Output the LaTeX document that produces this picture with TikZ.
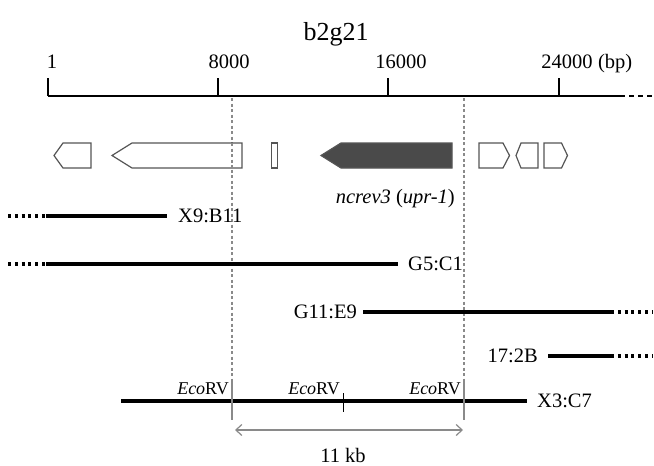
\documentclass[tikz,border=0pt]{standalone}
\usepackage{fontspec}
\setmainfont{Liberation Serif}
\usetikzlibrary{arrows.meta}
\definecolor{genegray}{HTML}{555555}
\definecolor{guidegray}{HTML}{8A8A8A}
\definecolor{fillgray}{HTML}{4A4A4A}
\tikzset{
  lbl/.style={inner sep=0pt, font=\fontsize{20.5}{24}\selectfont},
  ticklbl/.style={lbl, anchor=base},
  titlelbl/.style={inner sep=0pt, anchor=base, font=\fontsize{26}{30}\selectfont},
  eco/.style={inner sep=0pt, anchor=base east, font=\fontsize{18}{21}\selectfont},
  clone/.style={line width=3.2pt},
  cloneext/.style={line width=3.2pt, dash pattern=on 3pt off 3.8pt},
  gene/.style={draw=genegray, line width=1.2pt, fill=white, line join=miter},
  genefilled/.style={draw=genegray, line width=1.2pt, fill=fillgray, line join=miter},
  guide/.style={draw=guidegray, line width=1.1pt, dash pattern=on 3pt off 2.5pt},
  axisline/.style={line width=1.4pt},
  sitetick/.style={draw=guidegray, line width=1.5pt},
}
\begin{document}
\begin{tikzpicture}[x=1pt,y=-1pt]
\useasboundingbox (0,0) rectangle (654,466);
% title
\node[titlelbl] (title) at (336,40) {b2g21};
% axis
\coordinate (a0) at (48,96);
\coordinate (aend) at (620,96);
\coordinate (adash) at (654,96);
\draw[axisline] (a0) -- (aend);
\draw[axisline, dash pattern=on 5pt off 4pt] (aend) -- (adash);
\foreach \x in {48,218,388,559} {
  \draw[axisline] (\x,78) -- (\x,96);
}
\node[ticklbl] (t1) at (52,68) {1};
\node[ticklbl] (t8) at (229,68) {8000};
\node[ticklbl] (t16) at (401,68) {16000};
\node[ticklbl] (t24) at (567,68) {24000};
\node[lbl, anchor=base west] (tbp) at ([xshift=5pt]t24.base east) {(bp)};
% guide lines
\coordinate (g1top) at (232,98);
\coordinate (g1bot) at (232,382);
\coordinate (g2top) at (464,98);
\coordinate (g2bot) at (464,382);
\draw[guide] (g1top) -- (g1bot);
\draw[guide] (g2top) -- (g2bot);
% genes
\draw[gene] (54,155.5) -- (63,143) -- (91,143) -- (91,168) -- (63,168) -- cycle;
\draw[gene] (112,155.5) -- (132,143) -- (242,143) -- (242,168) -- (132,168) -- cycle;
\draw[gene] (271.5,143) rectangle (277.5,168);
\draw[genefilled] (321,155.5) -- (341,143) -- (452,143) -- (452,168) -- (341,168) -- cycle;
\draw[gene] (479,143) -- (503,143) -- (509.5,155.5) -- (503,168) -- (479,168) -- cycle;
\draw[gene] (516,155.5) -- (521,143) -- (538,143) -- (538,168) -- (521,168) -- cycle;
\draw[gene] (544,143) -- (561.5,143) -- (567.5,155.5) -- (561.5,168) -- (544,168) -- cycle;
% redraw guide over gene 2 region
\draw[guide] (232,143) -- (232,168);
\node[lbl, anchor=base east] (glbl) at (455,203) {\textit{ncrev3} (\textit{upr-1})};
% clone X9:B11
\coordinate (x9a) at (8,216);
\coordinate (x9b) at (46,216);
\coordinate (x9c) at (167,216);
\draw[cloneext] (x9a) -- (x9b);
\draw[clone] (x9b) -- (x9c);
\node[lbl, anchor=west] (x9) at (178,216) {X9:B11};
% clone G5:C1
\coordinate (g5a) at (8,264);
\coordinate (g5b) at (46,264);
\coordinate (g5c) at (398,264);
\draw[cloneext] (g5a) -- (g5b);
\draw[clone] (g5b) -- (g5c);
\node[lbl, anchor=west] (g5) at (408,264) {G5:C1};
% clone G11:E9
\node[lbl, anchor=east] (g11) at (357,312) {G11:E9};
\coordinate (g11a) at (363,312);
\coordinate (g11b) at (611,312);
\coordinate (g11c) at (652,312);
\draw[clone] (g11a) -- (g11b);
\draw[cloneext] (g11b) -- (g11c);
% clone 17:2B
\node[lbl, anchor=east] (c17) at (538,356) {17:2B};
\coordinate (c17a) at (548,356);
\coordinate (c17b) at (611,356);
\coordinate (c17c) at (652,356);
\draw[clone] (c17a) -- (c17b);
\draw[cloneext] (c17b) -- (c17c);
% clone X3:C7
\coordinate (x3a) at (121,401);
\coordinate (x3b) at (527,401);
\draw[clone] (x3a) -- (x3b);
\node[lbl, anchor=west] (x3) at (537,401) {X3:C7};
% EcoRV sites
\coordinate (s1a) at (232,382);
\coordinate (s1b) at (232,420);
\coordinate (s2a) at (343,393);
\coordinate (s2b) at (343,412);
\coordinate (s3a) at (464,382);
\coordinate (s3b) at (464,420);
\draw[sitetick] (s1a) -- (s1b);
\draw[line width=1pt] (s2a) -- (s2b);
\draw[sitetick] (s3a) -- (s3b);
\node[eco] (e1) at (229,394) {\textit{Eco}RV};
\node[eco] (e2) at (340,394) {\textit{Eco}RV};
\node[eco] (e3) at (461,394) {\textit{Eco}RV};
% 11 kb arrow
\coordinate (k1) at (235,430);
\coordinate (k2) at (463,430);
\draw[draw=guidegray, line width=1.2pt, {Straight Barb[length=6pt,width=11pt]}-{Straight Barb[length=6pt,width=11pt]}] (k1) -- (k2);
\node[lbl, anchor=base] (kb) at (343,462) {11 kb};
\end{tikzpicture}
\end{document}
